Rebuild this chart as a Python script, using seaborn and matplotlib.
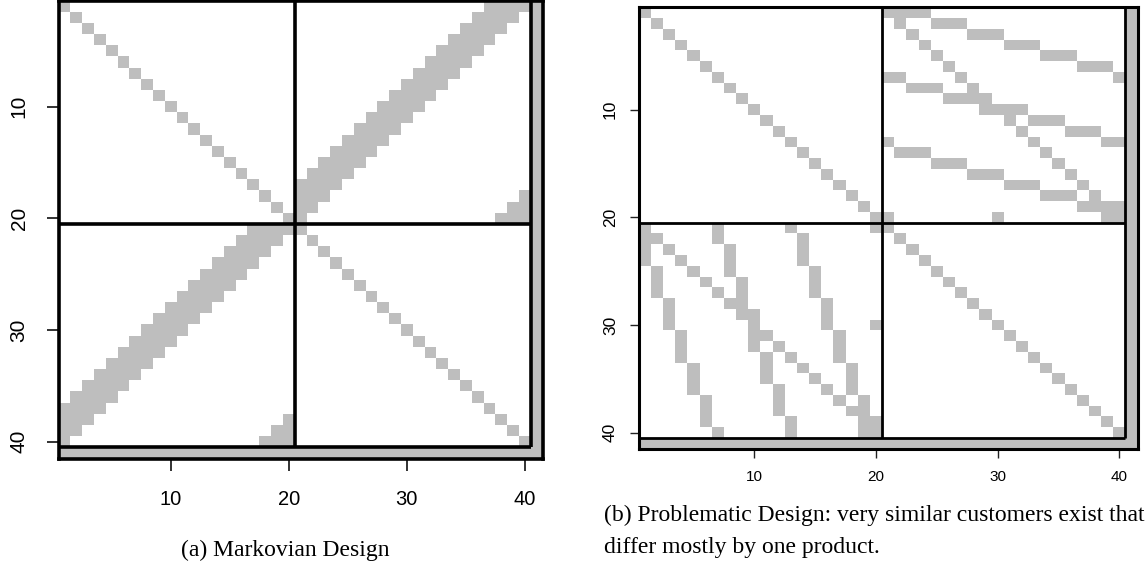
import numpy as np
import matplotlib
matplotlib.use("Agg")
import matplotlib.pyplot as plt
from matplotlib.colors import ListedColormap
import seaborn as sns

sns.set_theme(style="white")
plt.rcParams["font.family"] = ["Liberation Sans", "DejaVu Sans"]

N_ITEMS = 41          # 40 customers/products plus the shared last row/column
BLOCK = 20            # size of each diagonal block

tick_values = [10, 20, 30, 40]
tick_labels = ["10", "20", "30", "40"]

# Off-diagonal links (1-indexed columns) for each of the rows 1..20;
# the lower-left block is the mirror image of these.
markov_cross = [
    [37, 38, 39, 40],
    [36, 37, 38, 39],
    [35, 36, 37, 38],
    [34, 35, 36, 37],
    [33, 34, 35, 36],
    [32, 33, 34, 35],
    [31, 32, 33, 34],
    [30, 31, 32, 33],
    [29, 30, 31, 32],
    [28, 29, 30, 31],
    [27, 28, 29, 30],
    [26, 27, 28, 29],
    [25, 26, 27, 28],
    [24, 25, 26, 27],
    [23, 24, 25, 26],
    [22, 23, 24, 25],
    [21, 22, 23, 24],
    [21, 22, 23, 40],
    [21, 22, 39, 40],
    [21, 38, 39, 40],
]

problem_cross = [
    [21, 22, 23, 24],
    [22, 25, 26, 27],
    [23, 28, 29, 30],
    [24, 31, 32, 33],
    [25, 34, 35, 36],
    [26, 37, 38, 39],
    [21, 22, 27, 40],
    [23, 24, 25, 28],
    [26, 27, 28, 29],
    [29, 30, 31, 32],
    [31, 33, 34, 35],
    [32, 36, 37, 38],
    [21, 33, 39, 40],
    [22, 23, 24, 34],
    [25, 26, 27, 35],
    [28, 29, 30, 36],
    [31, 32, 33, 37],
    [34, 35, 36, 38],
    [37, 38, 39, 40],
    [21, 30, 39, 40],
]

captions = {
    "a": ["(a) Markovian Design"],
    "b": ["(b) Problematic Design: very similar customers exist that",
          "differ mostly by one product."],
}


def design_matrix(cross_links):
    m = np.zeros((N_ITEMS, N_ITEMS))
    diag = np.arange(N_ITEMS - 1)
    m[diag, diag] = 1
    for r, cols in enumerate(cross_links):
        for c in cols:
            m[r, c - 1] = 1
            m[c - 1, r] = 1
    m[N_ITEMS - 1, :] = 1
    m[:, N_ITEMS - 1] = 1
    return m


cmap = ListedColormap(["white", "#bebebe"])


def draw_panel(ax, mat, line_w, frame_w, tick_len, tick_w, xfs, yfs, xpad, ypad):
    sns.heatmap(mat, ax=ax, cmap=cmap, vmin=0, vmax=1, cbar=False,
                xticklabels=False, yticklabels=False)
    # block separators
    ax.hlines([BLOCK, 2 * BLOCK], 0, 2 * BLOCK, colors="black",
              linewidth=line_w, zorder=3)
    ax.vlines([BLOCK, 2 * BLOCK], 0, 2 * BLOCK, colors="black",
              linewidth=line_w, zorder=3)
    pos = [v - 0.5 for v in tick_values]
    ax.set_xticks(pos)
    ax.set_xticklabels(tick_labels, fontsize=xfs)
    ax.set_yticks(pos)
    ax.set_yticklabels(tick_labels, fontsize=yfs, rotation=90, va="center")
    ax.tick_params(axis="x", direction="out", length=tick_len, width=tick_w,
                   color="#222222", pad=xpad, bottom=True, labelcolor="black")
    ax.tick_params(axis="y", direction="out", length=tick_len, width=tick_w,
                   color="#222222", pad=ypad, left=True, labelcolor="black")
    for s in ax.spines.values():
        s.set_visible(True)
        s.set_color("black")
        s.set_linewidth(frame_w)
        s.set_zorder(4)


W, H = 1148, 565
fig = plt.figure(figsize=(W / 100, H / 100), dpi=100)

ax_a = fig.add_axes([58.5 / W, 1 - 458.5 / H, (542.7 - 58.5) / W, (458.5 - 0.6) / H])
ax_b = fig.add_axes([638.8 / W, 1 - 448.8 / H, (1137.6 - 638.8) / W, (448.8 - 7.3) / H])

draw_panel(ax_a, design_matrix(markov_cross), line_w=2.6, frame_w=2.6,
           tick_len=8.5, tick_w=1.3, xfs=14.5, yfs=15, xpad=14, ypad=13)
draw_panel(ax_b, design_matrix(problem_cross), line_w=2.0, frame_w=2.2,
           tick_len=6.5, tick_w=1.0, xfs=11, yfs=12.5, xpad=9, ypad=8.5)

serif = ["Liberation Serif", "DejaVu Serif"]
fig.text(285 / W, 1 - 550 / H, captions["a"][0], ha="center", va="center",
         fontsize=17, family=serif, color="black")
fig.text(604 / W, 1 - 515 / H, captions["b"][0], ha="left", va="center",
         fontsize=17, family=serif, color="black")
fig.text(604 / W, 1 - 547 / H, captions["b"][1], ha="left", va="center",
         fontsize=17, family=serif, color="black")

fig.savefig("out.png", dpi=100)
